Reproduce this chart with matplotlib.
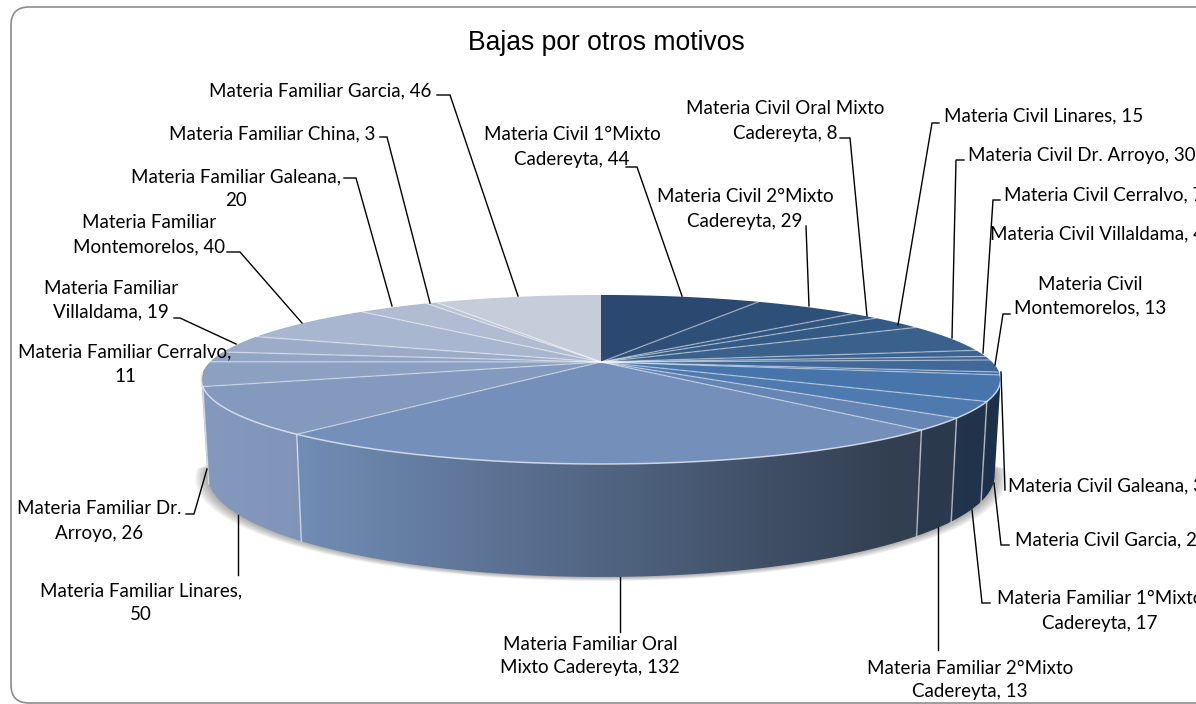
import numpy as np
import matplotlib
matplotlib.use("Agg")
import matplotlib.pyplot as plt
from matplotlib.patches import FancyBboxPatch, Polygon
from matplotlib.colors import to_rgb

# slices, clockwise from 12 o'clock
values = [44, 29, 8, 15, 30, 7, 4, 13, 3, 27, 17, 13, 132, 50, 26, 11, 19, 40, 20, 3, 46]
colors = ["#2A4870", "#2E5078", "#30557F", "#335A85", "#3A608C", "#3C6290", "#3E6593",
          "#40699A", "#416B9E", "#4674AB", "#4F7AB0", "#6585B4", "#7490BA", "#8499BE",
          "#8CA0C2", "#92A5C4", "#9CACC8", "#A9B6CF", "#B1BBD1", "#BBC3D6", "#C5CCDA"]

labels = [
    ("Materia Civil 1°Mixto\nCadereyta, 44", 572, 147, "center"),
    ("Materia Civil 2°Mixto\nCadereyta, 29", 745, 209, "center"),
    ("Materia Civil Oral Mixto\nCadereyta, 8", 785, 121, "center"),
    ("Materia Civil Linares, 15", 944, 116, "left"),
    ("Materia Civil Dr. Arroyo, 30", 968, 156, "left"),
    ("Materia Civil Cerralvo, 7", 1004, 195, "left"),
    ("Materia Civil Villaldama, 4", 990, 234, "left"),
    ("Materia Civil\nMontemorelos, 13", 1090, 296, "center"),
    ("Materia Civil Galeana, 3", 1008, 486, "left"),
    ("Materia Civil Garcia, 27", 1015, 540, "left"),
    ("Materia Familiar 1°Mixto\nCadereyta, 17", 1100, 611, "center"),
    ("Materia Familiar 2°Mixto\nCadereyta, 13", 970, 680, "center"),
    ("Materia Familiar Oral\nMixto Cadereyta, 132", 590, 656, "center"),
    ("Materia Familiar Linares,\n50", 141, 603, "center"),
    ("Materia Familiar Dr.\nArroyo, 26", 99, 521, "center"),
    ("Materia Familiar Cerralvo,\n11", 125, 364, "center"),
    ("Materia Familiar\nVillaldama, 19", 111, 300, "center"),
    ("Materia Familiar\nMontemorelos, 40", 149, 235, "center"),
    ("Materia Familiar Galeana,\n20", 236, 189, "center"),
    ("Materia Familiar China, 3", 272, 134, "center"),
    ("Materia Familiar Garcia, 46", 320, 91, "center"),
]

leaders = [
    [(626, 167), (637, 167), (682, 296)],
    [(806, 226), (809, 306)],
    [(840, 138), (850, 138), (867, 316)],
    [(939, 123), (932, 123), (898, 325)],
    [(964, 160), (956, 160), (952, 338)],
    [(1000, 200), (993, 200), (983, 353)],
    [(1010, 314), (1003, 314), (995, 365)],
    [(1005, 490), (1001, 372)],
    [(1009, 545), (1001, 545), (994, 483)],
    [(990, 603), (982, 603), (972, 510)],
    [(938, 650), (938, 527)],
    [(620, 632), (620, 577)],
    [(238, 575), (238, 515)],
    [(186, 514), (194, 514), (207, 469)],
    [(174, 318), (180, 318), (236, 344)],
    [(227, 252), (240, 252), (302, 323)],
    [(344, 178), (356, 178), (392, 306)],
    [(380, 137), (387, 137), (430, 303)],
    [(437, 95), (450, 95), (518, 296)],
]

# projection of the tilted disc
cx, cy = 601, 362
persp = 0.207
ky = 80.9
kx = 391
depth = 92
low_scale = 0.97


def top(t):
    t = np.radians(t)
    u, v = np.sin(t), np.cos(t)
    w = 1 + persp * v
    return cx + kx * u / w, cy - ky * v / w


def bottom(t):
    t = np.radians(t)
    u, v = np.sin(t), np.cos(t)
    w = 1 + persp * v
    return cx + 0.985 * kx * u / w, cy - low_scale * ky * v / w + depth / w


def shade(x):
    return np.interp(x, [200, 303, 890, 1001], [1.0, 0.97, 0.44, 0.42])


fig = plt.figure(figsize=(11.96, 7.04), dpi=100)
ax = fig.add_axes([0, 0, 1, 1])
ax.set_xlim(0, 1196)
ax.set_ylim(704, 0)
ax.axis("off")

ax.add_patch(FancyBboxPatch((11, 7), 1400, 696, boxstyle="round,pad=0,rounding_size=18",
                            fc="white", ec="#8C8C8C", lw=1.2, zorder=0))

total = sum(values)
edges = np.concatenate([[0], np.cumsum(values)]) * 360.0 / total
wall_a = 90 + np.degrees(np.arcsin(persp))
wall_b = 270 - np.degrees(np.arcsin(persp))

# soft shadow under the disc
ts = np.linspace(wall_a - 6, wall_b + 6, 200)
bx, by = bottom(ts)
for grow in range(8, 0, -1):
    f = 1 + grow / 260
    ax.fill(cx + (bx - cx) * f, by + grow * 0.5, color="#404040", alpha=0.06, lw=0, zorder=1)

# side wall
for i, col in enumerate(colors):
    a, b = max(edges[i], wall_a), min(edges[i + 1], wall_b)
    if a >= b:
        continue
    ts = np.linspace(a, b, 120)
    tx, ty = top(ts)
    lx, ly = bottom(ts)
    pts = np.column_stack([np.concatenate([tx, lx[::-1]]), np.concatenate([ty, ly[::-1]])])
    x0, x1 = pts[:, 0].min(), pts[:, 0].max()
    y0, y1 = pts[:, 1].min(), pts[:, 1].max()
    xs = np.linspace(x0, x1, 300)
    grad = np.outer(shade(xs), to_rgb(col))[None, :, :]
    poly = Polygon(pts, closed=True, fc="none", ec="none", transform=ax.transData)
    ax.add_patch(poly)
    im = ax.imshow(grad, extent=(x0, x1, y1, y0), aspect="auto", zorder=2, interpolation="bilinear")
    im.set_clip_path(poly)
    if a > wall_a and i > 0:
        p, q = top(a), bottom(a)
        ax.plot([p[0], q[0]], [p[1], q[1]], color="white", alpha=0.55, lw=1.1, zorder=3)
ax.set_xlim(0, 1196)
ax.set_ylim(704, 0)

# top face
for i, col in enumerate(colors):
    ts = np.linspace(edges[i], edges[i + 1], 60)
    tx, ty = top(ts)
    ax.fill(np.r_[cx, tx], np.r_[cy, ty], color=col, lw=0, zorder=4)
for e in edges[:-1]:
    if e == 0:
        continue
    p = top(e)
    ax.plot([cx, p[0]], [cy, p[1]], color="white", alpha=0.4, lw=1.0, zorder=5)
ts = np.linspace(wall_a - 4, wall_b + 4, 200)
tx, ty = top(ts)
ax.plot(tx, ty, color="#DDE2EC", alpha=0.85, lw=1.1, zorder=5)

for pts in leaders:
    xs, ys = zip(*pts)
    ax.plot(xs, ys, color="black", lw=1.0, zorder=6, solid_joinstyle="miter")

for text, x, y, ha in labels:
    ax.text(x, y, text, family="Lato", fontsize=13.5, color="black", ha=ha, va="center",
            multialignment="center", linespacing=1.5, zorder=7)

ax.text(606, 43, "Bajas por otros motivos", family="Liberation Sans", fontsize=19.1,
        color="black", ha="center", va="center", zorder=7)

fig.savefig("out.png", dpi=100)
